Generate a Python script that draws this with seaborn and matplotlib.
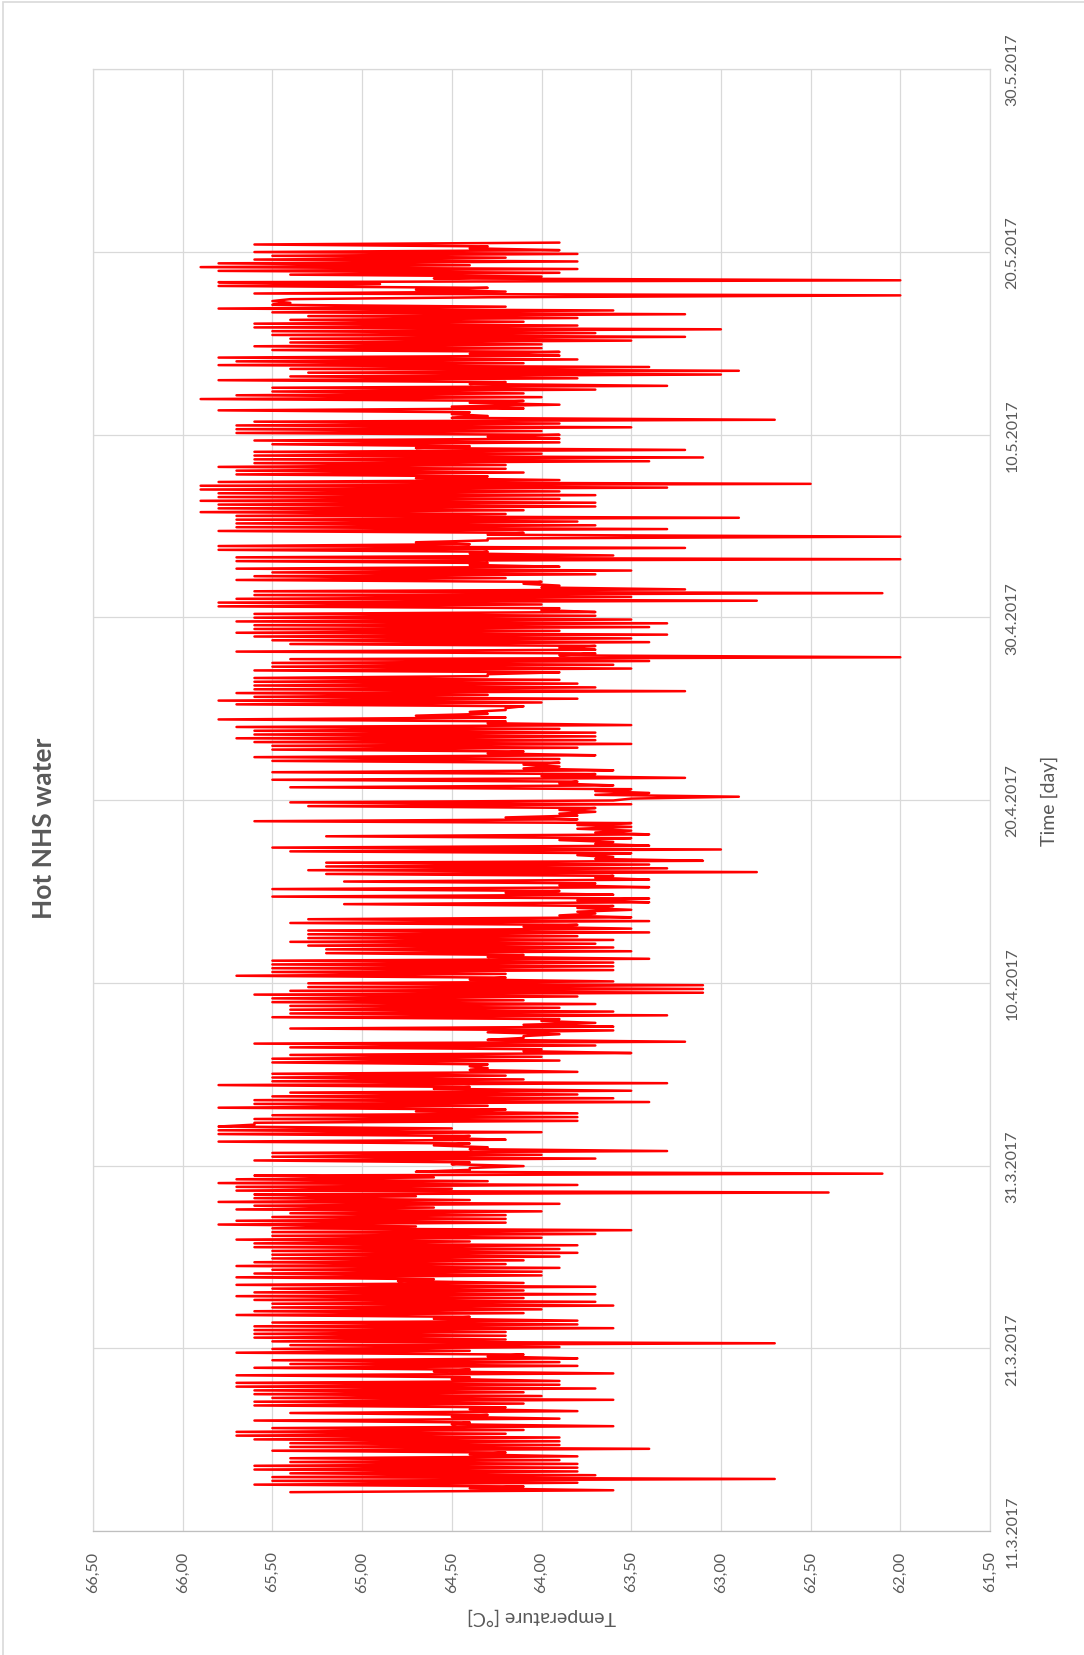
import numpy as np
import pandas as pd
import matplotlib
matplotlib.use("Agg")
import matplotlib.pyplot as plt
import matplotlib.dates as mdates
from matplotlib.ticker import FixedLocator, FuncFormatter
from matplotlib.patches import Rectangle
import seaborn as sns

# Hot water temperature readings [°C], chronological, alternating peak / dip
hot_water_temp = [
    65.4, 63.6, 64.4, 64.1, 65.6, 63.8, 65.5, 62.7, 65.5, 63.7, 65.4, 63.8, 65.6, 63.8, 65.6, 63.8,
    65.4, 63.9, 65.4, 63.8, 64.4, 64.2, 65.5, 63.4, 65.4, 63.9, 65.4, 63.9, 65.6, 63.9, 65.7, 64.2,
    65.7, 64.1, 65.5, 63.6, 64.5, 64.4, 65.6, 63.9, 64.5, 64.3, 65.4, 63.8, 64.4, 64.2, 65.6, 64.1,
    65.6, 63.6, 65.5, 64.0, 65.6, 64.1, 65.6, 63.7, 65.7, 63.9,
    65.7, 63.9, 64.5, 64.4, 65.7, 63.6, 64.6, 64.4, 65.6, 63.8, 65.4, 63.9, 65.5, 63.8, 64.3, 64.1,
    65.7, 64.4, 65.5, 63.9, 65.4, 62.7, 65.5, 64.2, 65.6, 64.2, 65.6, 64.2, 65.6, 63.6, 65.6, 63.8,
    65.5, 63.8, 64.6, 64.4, 65.7, 64.1, 65.6, 64.0, 65.5, 63.6, 65.5, 63.7, 65.6, 64.1, 65.7, 63.7,
    65.6, 64.1, 65.5, 63.7, 65.7, 64.1, 64.8, 64.6, 65.7, 64.0, 65.6, 64.0, 65.5, 63.9, 65.7, 64.2,
    65.6, 64.1, 65.5, 63.9, 65.5, 63.8,
    65.5, 63.9, 65.6, 63.8, 65.6, 64.4, 65.7, 64.0, 65.5, 63.7, 65.5, 63.5, 65.5, 64.7, 65.8, 64.2,
    65.7, 64.2, 65.5, 64.2, 65.4, 64.0, 65.7, 64.6, 65.6, 63.9, 65.8, 64.4, 65.6, 64.7, 65.6, 62.4,
    65.7, 64.5, 65.7, 63.8, 65.8, 64.3, 65.7, 64.6, 65.6, 62.1, 64.7, 64.4, 64.4, 64.1, 64.5, 64.4,
    65.6, 63.7, 65.5, 64.0, 65.5, 63.3, 64.4, 64.3, 64.6, 64.4, 65.8, 64.2, 64.6, 64.4, 65.8, 64.0,
    65.8, 64.5, 65.8, 65.6, 65.6, 63.8,
    65.6, 63.8, 65.5, 63.8, 64.7, 64.2, 65.8, 64.3, 65.6, 63.4, 65.6, 63.6, 65.5, 63.8, 65.4, 63.5,
    64.6, 64.4, 65.8, 63.3, 65.5, 64.1, 65.5, 64.2, 65.5, 63.8, 64.4, 64.3, 64.4, 64.3, 65.5, 63.9,
    65.5, 64.0, 65.4, 63.5, 64.1, 64.0, 65.4, 63.7, 65.6, 63.2, 64.3, 64.1, 64.1, 63.9, 64.3, 63.6,
    65.4, 63.6, 64.1, 63.7, 64.0, 63.9, 65.5, 63.3, 65.4, 63.6, 65.4, 63.9, 65.4, 63.7, 65.5, 64.1,
    65.5, 63.8, 65.6, 63.1, 65.4, 63.1,
    65.3, 63.1, 65.3, 63.6, 64.4, 64.2, 65.7, 64.2, 65.5, 63.6, 65.5, 63.6, 65.5, 63.6, 65.5, 63.4,
    64.3, 64.1, 65.2, 63.5, 65.2, 63.6, 65.3, 63.7, 65.4, 63.6, 65.3, 63.8, 65.3, 63.4, 65.3, 63.5,
    64.1, 63.8, 65.4, 63.4, 65.3, 63.5, 63.9, 63.7, 63.8, 63.5, 63.8, 63.6, 65.1, 63.4, 63.8, 63.4,
    65.5, 63.6, 64.2, 63.9, 65.5, 63.4, 63.9, 63.7, 65.1, 63.4, 63.7, 63.6, 65.2, 62.8,
    65.3, 63.3, 65.2, 63.4, 65.2, 63.1, 63.7, 63.6, 63.8, 63.5, 65.4, 63.0, 65.5, 63.4, 63.7, 63.6,
    63.9, 63.5, 65.2, 63.4, 63.7, 63.5, 63.8, 63.5, 63.8, 63.5, 65.6, 63.8, 64.2, 63.8, 63.9, 63.7,
    63.9, 63.7, 65.3, 63.5, 65.4, 63.6, 63.5, 62.9, 63.7, 63.4, 63.7, 63.5, 65.4, 63.6, 63.9, 63.8,
    65.5, 63.2, 64.0, 63.7, 65.5, 63.6, 64.1, 63.9, 64.1, 63.9, 65.5, 63.9,
    65.6, 63.7, 64.3, 64.1, 65.5, 63.8, 65.5, 63.5, 65.6, 63.7, 65.7, 63.7, 65.6, 63.7, 65.6, 63.9,
    65.7, 63.5, 64.3, 64.2, 65.8, 64.2, 64.7, 64.3, 64.4, 64.2, 64.2, 64.1, 65.7, 64.0, 65.8, 63.8,
    65.6, 64.3, 65.7, 63.2, 65.6, 63.7, 65.6, 63.8, 65.6, 63.9, 65.6, 64.3, 64.3, 63.9, 65.6, 63.5,
    65.5, 63.6, 65.5, 63.4, 65.4, 62.0, 63.9, 63.7, 65.7, 63.7, 63.9, 63.7, 65.4, 63.4, 65.5, 63.5,
    65.6, 63.3, 65.7, 63.9,
    65.6, 63.4, 65.6, 63.3, 65.7, 63.5, 65.6, 63.7, 65.6, 63.7, 64.0, 63.9, 65.8, 64.0, 65.8, 62.8,
    65.7, 63.5, 65.6, 62.1, 65.6, 63.2, 64.0, 63.9, 64.1, 64.0, 65.7, 64.2, 65.6, 63.7, 65.5, 63.5,
    65.7, 63.9, 64.4, 64.3, 65.7, 62.0, 65.7, 63.6, 64.4, 64.3, 65.8, 63.2, 65.8, 64.4, 64.7, 64.3,
    64.3, 62.0, 64.3, 64.1, 65.8, 63.3, 65.7, 63.7, 65.7, 63.8, 65.7, 62.9, 65.7, 64.2, 65.9, 64.1,
    65.8, 63.7, 65.8, 63.7, 65.9, 63.9,
    65.8, 63.7, 65.8, 63.9, 65.9, 63.3, 65.9, 62.5, 65.8, 63.9, 64.7, 64.3, 65.7, 64.1, 65.7, 64.2,
    65.8, 64.2, 65.6, 63.4, 65.6, 63.1, 65.6, 64.0, 65.6, 63.2, 64.7, 64.4, 65.5, 63.9, 65.6, 63.9,
    64.3, 63.9, 65.7, 64.0, 65.7, 63.5, 65.7, 63.9, 65.6, 62.7, 64.5, 64.3, 64.5, 64.4, 65.8, 64.1,
    64.5, 63.9, 64.4, 64.1, 65.9, 64.0, 65.7, 64.1, 65.5, 63.7, 65.5, 63.3, 64.4, 64.2, 65.8, 63.8,
    65.4, 63.0, 65.3, 62.9,
    65.4, 63.4, 65.8, 64.1, 65.7, 63.8, 65.8, 63.9, 64.4, 63.9, 65.5, 64.0, 65.6, 64.0, 65.4, 63.5,
    65.4, 63.2, 65.5, 63.7, 65.5, 63.0, 65.6, 63.8, 65.6, 64.1, 65.4, 63.8, 65.3, 63.2, 65.5, 63.6,
    65.8, 64.2, 65.5, 65.4, 65.5, 65.4, 64.3, 62.0, 65.6, 64.2, 64.7, 64.3, 65.8, 64.9, 65.8, 62.0,
    64.6, 64.0, 65.4, 63.9, 65.8, 63.8, 65.9, 64.4, 65.8, 63.8, 65.6, 64.2, 65.5, 63.8, 65.6, 63.9,
    64.4, 64.3, 65.6, 63.9,
]
record_start = "2017-03-13 03:00"
record_end = "2017-05-20 12:00"

temp_ticks = [66.5, 66.0, 65.5, 65.0, 64.5, 64.0, 63.5, 63.0, 62.5, 62.0, 61.5]
date_ticks = ["2017-03-11", "2017-03-21", "2017-03-31", "2017-04-10", "2017-04-20",
              "2017-04-30", "2017-05-10", "2017-05-20", "2017-05-30"]

title_text = "Hot NHS water"
temp_label = "Temperature [°C]"
time_label = "Time [day]"

df = pd.DataFrame({
    "time": pd.date_range(record_start, record_end, periods=len(hot_water_temp)),
    "temp": hot_water_temp,
})

sns.set_theme(style="white")
plt.rcParams["font.family"] = ["Lato", "DejaVu Sans"]

W, H = 1084, 1656
fig = plt.figure(figsize=(W / 100, H / 100), dpi=100)
fig.patch.set_facecolor("white")

# outer chart frame
fig.add_artist(Rectangle((3 / W, -0.01), 1.02, 1 - 3 / H + 0.01, transform=fig.transFigure,
                         fill=False, edgecolor="#d9d9d9", lw=1.2))

left, right, top, bottom = 93, 990, 70, 1532
ax = fig.add_axes([left / W, 1 - bottom / H, (right - left) / W, (bottom - top) / H])

sns.lineplot(data=df, x="temp", y="time", orient="y", sort=False, estimator=None,
             color="#ff0000", lw=1.8, ax=ax)

tick_dates = pd.to_datetime(date_ticks)
ax.set_xlim(temp_ticks[0], temp_ticks[-1])
ax.set_ylim(mdates.date2num(tick_dates[0]), mdates.date2num(tick_dates[-1]))

ax.xaxis.set_major_locator(FixedLocator(temp_ticks))
ax.xaxis.set_major_formatter(FuncFormatter(lambda v, p: f"{v:.2f}".replace(".", ",")))
ax.yaxis.set_major_locator(FixedLocator(mdates.date2num(tick_dates)))
ax.yaxis.set_major_formatter(FuncFormatter(
    lambda v, p: (lambda d: f"{d.day}.{d.month}.{d.year}")(mdates.num2date(v))))

ax.grid(True, color="#d9d9d9", lw=0.9)
ax.set_axisbelow(True)
for name, sp in ax.spines.items():
    sp.set_visible(True)
    sp.set_color("#d9d9d9")
    sp.set_linewidth(0.9)
ax.spines["bottom"].set_color("#bfbfbf")

ax.yaxis.tick_right()
ax.tick_params(axis="x", length=0, pad=14, labelsize=11.5, labelcolor="#595959", labelrotation=90)
ax.tick_params(axis="y", length=0, pad=11, labelsize=11.5, labelcolor="#595959", labelrotation=90)
for lab in ax.get_yticklabels():
    lab.set_va("center")
ax.set_xlabel("")
ax.set_ylabel("")

fig.text(541 / W, 1 - 1617 / H, temp_label, rotation=180, ha="center", va="center",
         fontsize=14, color="#595959")
fig.text(1049 / W, 1 - 801 / H, time_label, rotation=90, ha="center", va="center",
         fontsize=14, color="#595959")
fig.text(44 / W, 1 - 828 / H, title_text, rotation=90, ha="center", va="center",
         fontsize=19, fontweight="bold", color="#595959")

fig.savefig("out.png", dpi=100, facecolor="white")
